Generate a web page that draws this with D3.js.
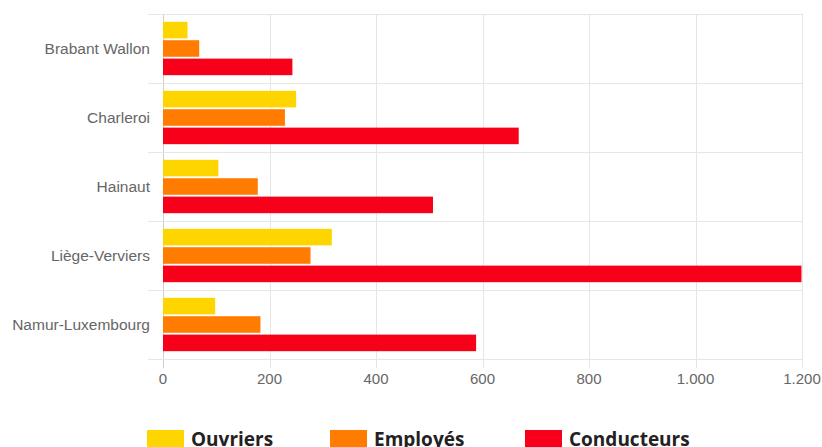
<!DOCTYPE html>
<html>
<head>
<meta charset="utf-8">
<script src="https://cdn.jsdelivr.net/npm/d3@7"></script>
<style>
  body { margin: 0; background: #fff; }
  svg { display: block; }
</style>
</head>
<body>
<div id="chart"></div>
<script>
// regions and values
var regions = ["Brabant Wallon", "Charleroi", "Hainaut", "Liège-Verviers", "Namur-Luxembourg"];
var seriesNames = ["Ouvriers", "Employés", "Conducteurs"];
var ouvriers = [46, 250, 104, 317, 98];
var employes = [68, 229, 178, 277, 183];
var conducteurs = [243, 668, 507, 1199, 588];
var xTicks = [0, 200, 400, 600, 800, 1000, 1200];
var colors = ["#ffd500", "#ff7c00", "#f70019"];

var seriesValues = [ouvriers, employes, conducteurs];

var W = 822, H = 447;
var margin = {top: 14, right: 20, bottom: 88, left: 163},
    width = 802 - margin.left,
    height = 359 - margin.top;

var svg = d3.select("#chart")
  .append("svg")
    .attr("width", W)
    .attr("height", H)
  .append("g")
    .attr("transform", "translate(" + margin.left + "," + margin.top + ")");

var x = d3.scaleLinear().domain([0, 1200]).range([0, width]);
var y = d3.scaleBand().domain(regions).range([0, height]);
// 80% of the band for the group, 90% of each slot for the bar
var inner = d3.scaleBand().domain(seriesNames)
  .range([y.bandwidth() * 0.1, y.bandwidth() * 0.9]);
var barH = inner.bandwidth() * 0.9;

var fmt = function(d) { return d3.format(",")(d).replace(/,/g, "."); };

// vertical grid lines (extend a little below the plot)
svg.append("g").selectAll("line")
  .data(xTicks)
  .enter().append("line")
    .attr("x1", function(d) { return Math.round(x(d)) + 0.5; })
    .attr("x2", function(d) { return Math.round(x(d)) + 0.5; })
    .attr("y1", 0)
    .attr("y2", height + 9)
    .attr("stroke", function(d) { return d === 0 ? "#cfcfcf" : "#e6e6e6"; })
    .attr("stroke-width", 1);

// horizontal grid lines at band boundaries (extend left of axis)
var bounds = regions.map(function(r) { return y(r); }).concat([height]);
svg.append("g").selectAll("line")
  .data(bounds)
  .enter().append("line")
    .attr("x1", -15)
    .attr("x2", width)
    .attr("y1", function(d) { return Math.round(d) + 0.5; })
    .attr("y2", function(d) { return Math.round(d) + 0.5; })
    .attr("stroke", "#e6e6e6")
    .attr("stroke-width", 1);

// bars
seriesNames.forEach(function(s, i) {
  svg.append("g").selectAll("rect")
    .data(regions)
    .enter().append("rect")
      .attr("x", x(0))
      .attr("y", function(d) { return y(d) + inner(s) + (inner.bandwidth() - barH) / 2; })
      .attr("width", function(d, j) { return x(seriesValues[i][j]) - x(0); })
      .attr("height", barH)
      .attr("fill", colors[i]);
});

// y labels
svg.append("g").selectAll("text")
  .data(regions)
  .enter().append("text")
    .attr("x", -13)
    .attr("y", function(d) { return y(d) + y.bandwidth() / 2; })
    .attr("dy", "0.35em")
    .attr("text-anchor", "end")
    .style("font-family", "'Liberation Sans', Arial, sans-serif")
    .style("font-size", "15.5px")
    .style("fill", "#666")
    .text(function(d) { return d; });

// x tick labels
svg.append("g").selectAll("text")
  .data(xTicks)
  .enter().append("text")
    .attr("x", function(d) { return x(d); })
    .attr("y", height + 20)
    .attr("dy", "0.35em")
    .attr("text-anchor", "middle")
    .style("font-family", "'Liberation Sans', Arial, sans-serif")
    .style("font-size", "15px")
    .style("fill", "#666")
    .text(fmt);

// legend
var legendX = [147, 330, 525];
var legend = d3.select("#chart svg").append("g");
seriesNames.forEach(function(s, i) {
  legend.append("rect")
    .attr("x", legendX[i])
    .attr("y", 430)
    .attr("width", 37)
    .attr("height", 20)
    .attr("fill", colors[i]);
  legend.append("text")
    .attr("x", legendX[i] + 44)
    .attr("y", 446)
    .style("font-family", "'Open Sans', sans-serif")
    .style("font-weight", "700")
    .style("font-size", "19px")
    .style("fill", "#222")
    .text(s);
});
</script>
</body>
</html>
